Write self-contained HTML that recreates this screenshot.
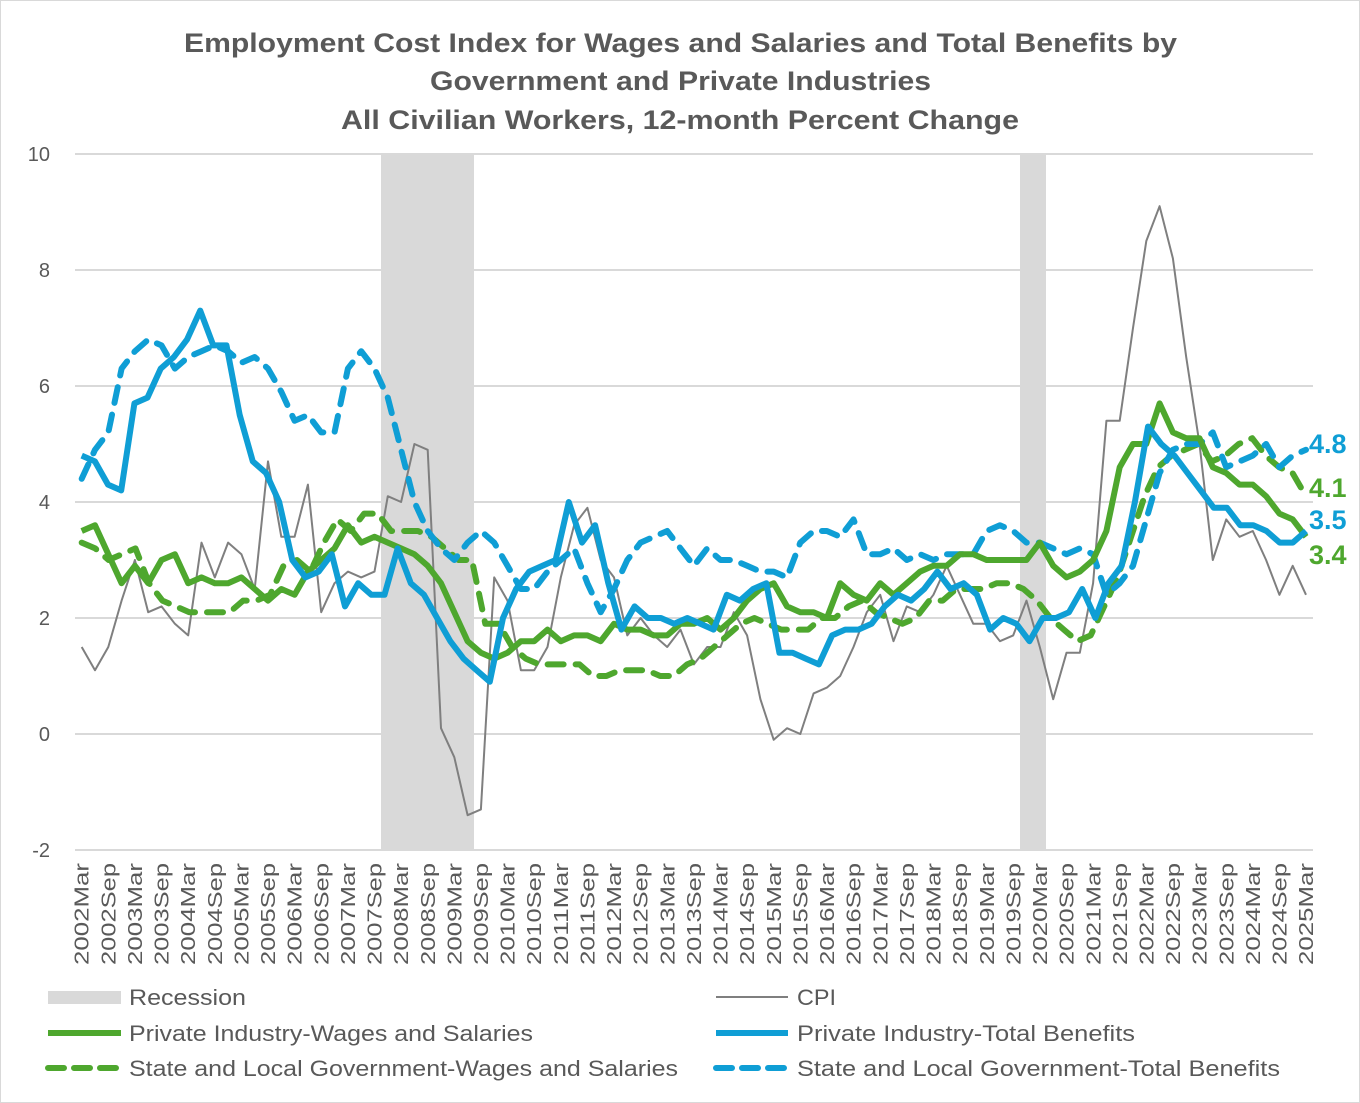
<!DOCTYPE html>
<html><head><meta charset="utf-8"><style>
body{margin:0;background:#fff;}
svg{display:block;font-family:"Liberation Sans",sans-serif;}
</style></head><body>
<svg id="s" width="1360" height="1103" xmlns="http://www.w3.org/2000/svg">
<rect x="0.5" y="0.5" width="1359" height="1102" fill="#fff" stroke="#d9d9d9"/>
<g fill="#595959" font-weight="bold" font-size="27" lengthAdjust="spacingAndGlyphs">
<text x="184" y="52" textLength="993" lengthAdjust="spacingAndGlyphs">Employment Cost Index for Wages and Salaries and Total Benefits by</text>
<text x="430" y="90" textLength="501" lengthAdjust="spacingAndGlyphs">Government and Private Industries</text>
<text x="341" y="129" textLength="678" lengthAdjust="spacingAndGlyphs">All Civilian Workers, 12-month Percent Change</text>
</g>
<rect x="381" y="154" width="93" height="696" fill="#d9d9d9"/>
<rect x="1020" y="154" width="26" height="696" fill="#d9d9d9"/>
<g stroke="#d9d9d9" stroke-width="2" id="grid"></g>
<g fill="#595959" font-size="20" text-anchor="end" id="ylab"></g>
<g fill="#595959" font-size="20" id="xlab"></g>
<g id="series" fill="none" stroke-linejoin="round"></g>
<g font-weight="bold" font-size="27">
<text x="1309" y="453" fill="#0f9ed5">4.8</text>
<text x="1309" y="497" fill="#4ea72e">4.1</text>
<text x="1309" y="529" fill="#0f9ed5">3.5</text>
<text x="1309" y="564" fill="#4ea72e">3.4</text>
</g>
<g font-size="22" fill="#595959">
<rect x="48" y="991" width="73" height="13" fill="#d9d9d9"/>
<text x="129" y="1005" textLength="117" lengthAdjust="spacingAndGlyphs">Recession</text>
<line x1="716" y1="997" x2="788" y2="997" stroke="#7f7f7f" stroke-width="2"/>
<text x="797" y="1005" textLength="39" lengthAdjust="spacingAndGlyphs">CPI</text>
<line x1="48" y1="1033" x2="121" y2="1033" stroke="#4ea72e" stroke-width="6"/>
<text x="129" y="1041" textLength="404" lengthAdjust="spacingAndGlyphs">Private Industry-Wages and Salaries</text>
<line x1="716" y1="1033" x2="788" y2="1033" stroke="#0f9ed5" stroke-width="6"/>
<text x="797" y="1041" textLength="338" lengthAdjust="spacingAndGlyphs">Private Industry-Total Benefits</text>
<line x1="48" y1="1068" x2="121" y2="1068" stroke="#4ea72e" stroke-width="6" stroke-dasharray="16 10" stroke-linecap="round"/>
<text x="129" y="1076" textLength="549" lengthAdjust="spacingAndGlyphs">State and Local Government-Wages and Salaries</text>
<line x1="716" y1="1068" x2="788" y2="1068" stroke="#0f9ed5" stroke-width="6" stroke-dasharray="16 10" stroke-linecap="round"/>
<text x="797" y="1076" textLength="483" lengthAdjust="spacingAndGlyphs">State and Local Government-Total Benefits</text>
</g>
</svg>
<script>
const NS="http://www.w3.org/2000/svg";
function el(t,a,p,txt){const e=document.createElementNS(NS,t);for(const k in a)e.setAttribute(k,a[k]);if(txt!==undefined)e.textContent=txt;document.getElementById(p).appendChild(e);return e;}
const Y=v=>734-58*v;
for(let v=-2;v<=10;v+=2){el('line',{x1:75,x2:1313,y1:Y(v),y2:Y(v)},'grid');el('text',{x:50,y:Y(v)+7},'ylab',String(v));}
const step=13.31,x0=81.7;
for(let i=0;i<93;i+=2){const yr=2002+Math.floor(i/4);const m=(i%4==0)?'Mar':'Sep';const x=x0+i*step+7;
el('text',{x:0,y:0,transform:`translate(${x},965) rotate(-90)`,textLength:102,lengthAdjust:'spacingAndGlyphs'},'xlab',yr+m);}
function line(vals,color,w,dash){const n=vals.length;const st=(1306-x0)/(n-1);
const pts=vals.map((v,i)=>(x0+i*st).toFixed(1)+','+Y(v).toFixed(1)).join(' ');
const a={points:pts,stroke:color,'stroke-width':w};if(dash){a['stroke-dasharray']=dash;a['stroke-linecap']='round';}
el('polyline',a,'series');}
const cpi=[1.5,1.1,1.5,2.3,3.0,2.1,2.2,1.9,1.7,3.3,2.7,3.3,3.1,2.5,4.7,3.4,3.4,4.3,2.1,2.6,2.8,2.7,2.8,4.1,4.0,5.0,4.9,0.1,-0.4,-1.4,-1.3,2.7,2.3,1.1,1.1,1.5,2.7,3.6,3.9,3.0,2.7,1.7,2.0,1.7,1.5,1.8,1.2,1.5,1.5,2.1,1.7,0.6,-0.1,0.1,0.0,0.7,0.8,1.0,1.5,2.1,2.4,1.6,2.2,2.1,2.4,2.9,2.4,1.9,1.9,1.6,1.7,2.3,1.5,0.6,1.4,1.4,2.6,5.4,5.4,7.0,8.5,9.1,8.2,6.5,5.0,3.0,3.7,3.4,3.5,3.0,2.4,2.9,2.4];
const slw=[3.3,3.2,3.0,3.1,3.2,2.6,2.3,2.2,2.1,2.1,2.1,2.1,2.3,2.3,2.4,2.9,3.0,2.8,3.3,3.7,3.5,3.8,3.8,3.5,3.5,3.5,3.4,3.2,3.0,3.0,1.9,1.9,1.5,1.3,1.2,1.2,1.2,1.2,1.0,1.0,1.1,1.1,1.1,1.0,1.0,1.2,1.3,1.5,1.7,1.9,2.0,1.9,1.8,1.8,1.8,2.0,2.0,2.2,2.3,2.1,2.0,1.9,2.0,2.3,2.3,2.5,2.5,2.5,2.6,2.6,2.5,2.3,2.0,1.8,1.6,1.7,2.2,2.7,3.4,4.1,4.6,4.8,4.9,5.0,4.7,4.8,5.0,5.1,4.8,4.6,4.5,4.1];
const slb=[4.4,4.9,5.2,6.3,6.6,6.8,6.7,6.3,6.5,6.6,6.7,6.6,6.4,6.5,6.3,5.9,5.4,5.5,5.2,5.2,6.3,6.6,6.3,5.8,4.9,4.0,3.5,3.2,3.0,3.3,3.5,3.3,2.9,2.5,2.5,2.8,3.0,3.2,2.6,2.1,2.5,3.0,3.3,3.4,3.5,3.2,2.9,3.2,3.0,3.0,2.9,2.8,2.8,2.7,3.3,3.5,3.5,3.4,3.7,3.1,3.1,3.2,3.0,3.1,3.0,3.1,3.1,3.1,3.5,3.6,3.5,3.3,3.3,3.2,3.1,3.2,3.1,2.4,2.6,2.9,3.7,4.5,4.9,5.0,5.0,5.2,4.6,4.7,4.8,5.0,4.6,4.8,4.9];
const pw=[3.5,3.6,3.1,2.6,2.9,2.6,3.0,3.1,2.6,2.7,2.6,2.6,2.7,2.5,2.3,2.5,2.4,2.8,3.0,3.2,3.6,3.3,3.4,3.3,3.2,3.1,2.9,2.6,2.1,1.6,1.4,1.3,1.4,1.6,1.6,1.8,1.6,1.7,1.7,1.6,1.9,1.8,1.8,1.7,1.7,1.9,1.9,2.0,1.8,2.0,2.3,2.5,2.6,2.2,2.1,2.1,2.0,2.6,2.4,2.3,2.6,2.4,2.6,2.8,2.9,2.9,3.1,3.1,3.0,3.0,3.0,3.0,3.3,2.9,2.7,2.8,3.0,3.5,4.6,5.0,5.0,5.7,5.2,5.1,5.1,4.6,4.5,4.3,4.3,4.1,3.8,3.7,3.4];
const pb=[4.8,4.7,4.3,4.2,5.7,5.8,6.3,6.5,6.8,7.3,6.7,6.7,5.5,4.7,4.5,4.0,3.0,2.7,2.8,3.1,2.2,2.6,2.4,2.4,3.2,2.6,2.4,2.0,1.6,1.3,1.1,0.9,2.0,2.5,2.8,2.9,3.0,4.0,3.3,3.6,2.6,1.8,2.2,2.0,2.0,1.9,2.0,1.9,1.8,2.4,2.3,2.5,2.6,1.4,1.4,1.3,1.2,1.7,1.8,1.8,1.9,2.2,2.4,2.3,2.5,2.8,2.5,2.6,2.4,1.8,2.0,1.9,1.6,2.0,2.0,2.1,2.5,2.0,2.6,2.9,4.0,5.3,5.0,4.8,4.5,4.2,3.9,3.9,3.6,3.6,3.5,3.3,3.3,3.5];
line(cpi,'#7f7f7f',2);
line(slw,'#4ea72e',6,'16 12');
line(slb,'#0f9ed5',6,'16 12');
line(pw,'#4ea72e',6);
line(pb,'#0f9ed5',6);
</script>
</body></html>
